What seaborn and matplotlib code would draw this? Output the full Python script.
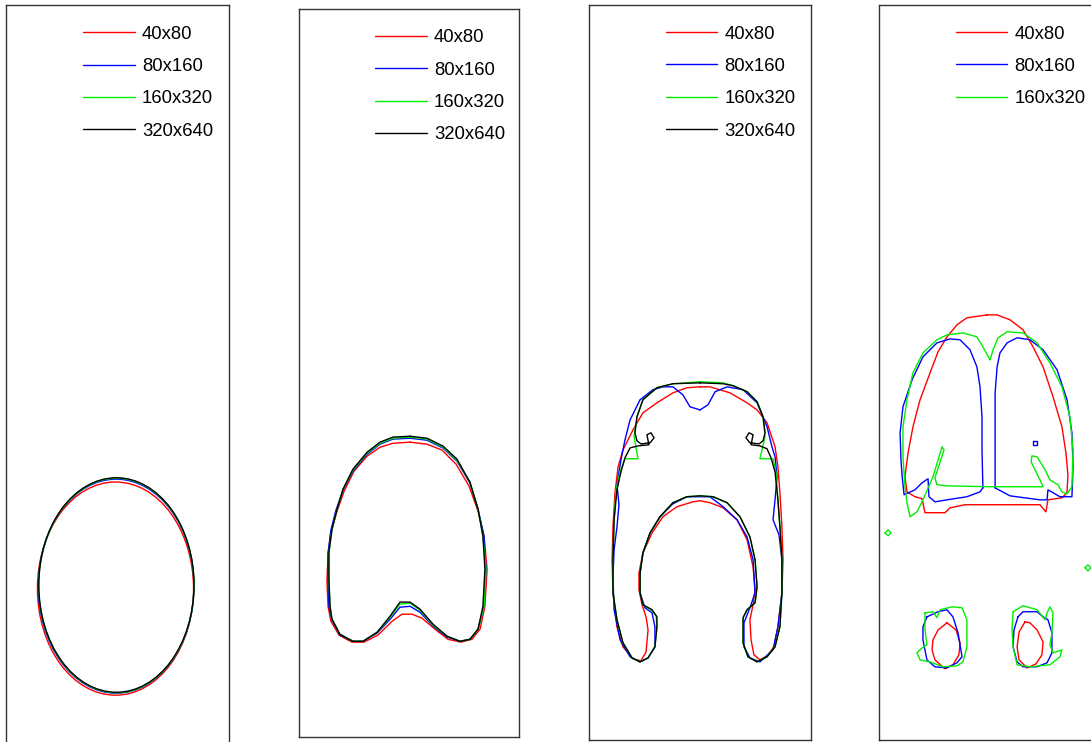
import matplotlib
matplotlib.use("Agg")
import matplotlib.pyplot as plt
from matplotlib.lines import Line2D
from matplotlib.patches import Ellipse
import seaborn as sns
import pandas as pd

# ---------------------------------------------------------------------------
# Interface contours of a rising bubble at four times, four grid resolutions.
# Domain coordinates: x in [0, 1], y in [0, 3.31] (y up).
# ---------------------------------------------------------------------------
RESOLUTIONS = ["40x80", "80x160", "160x320", "320x640"]

# Panel 1: early time, bubble still close to an ellipse (centre, full axes)
P1_CX = [0.491, 0.494, 0.495, 0.495]
P1_CY = [0.693, 0.704, 0.707, 0.709]
P1_W = [0.700, 0.698, 0.696, 0.696]
P1_H = [0.956, 0.960, 0.962, 0.962]

# Panel 2: bubble with a dimpled base
p2_40 = [(0.505, 1.341), (0.427, 1.336), (0.368, 1.318), (0.309, 1.277), (0.250, 1.209),
         (0.205, 1.118), (0.173, 1.027), (0.145, 0.932), (0.132, 0.832), (0.127, 0.709),
         (0.132, 0.595), (0.145, 0.527), (0.182, 0.464), (0.241, 0.432), (0.295, 0.432),
         (0.359, 0.464), (0.423, 0.527), (0.468, 0.559), (0.514, 0.559), (0.559, 0.541),
         (0.618, 0.491), (0.677, 0.445), (0.736, 0.432), (0.786, 0.445), (0.823, 0.491),
         (0.845, 0.595), (0.855, 0.764), (0.841, 0.914), (0.814, 1.027), (0.773, 1.141),
         (0.714, 1.241), (0.650, 1.305), (0.582, 1.332)]
p2_80 = [(0.505, 1.359), (0.427, 1.355), (0.368, 1.332), (0.309, 1.286), (0.245, 1.209),
         (0.200, 1.123), (0.168, 1.032), (0.145, 0.941), (0.132, 0.836), (0.132, 0.714),
         (0.136, 0.595), (0.150, 0.532), (0.186, 0.464), (0.245, 0.436), (0.291, 0.436),
         (0.355, 0.473), (0.414, 0.536), (0.459, 0.591), (0.505, 0.595), (0.550, 0.568),
         (0.609, 0.505), (0.673, 0.455), (0.732, 0.436), (0.777, 0.445), (0.814, 0.491),
         (0.841, 0.595), (0.850, 0.764), (0.841, 0.914), (0.814, 1.036), (0.777, 1.155),
         (0.718, 1.255), (0.655, 1.314), (0.582, 1.350)]
p2_160 = [(0.505, 1.364), (0.427, 1.359), (0.368, 1.336), (0.309, 1.291), (0.245, 1.214),
          (0.200, 1.127), (0.173, 1.036), (0.150, 0.945), (0.136, 0.841), (0.136, 0.718),
          (0.141, 0.595), (0.150, 0.536), (0.186, 0.468), (0.245, 0.436), (0.291, 0.436),
          (0.355, 0.477), (0.414, 0.545), (0.459, 0.605), (0.505, 0.609), (0.550, 0.577),
          (0.609, 0.509), (0.673, 0.459), (0.732, 0.436), (0.777, 0.445), (0.814, 0.491),
          (0.841, 0.595), (0.850, 0.764), (0.836, 0.914), (0.814, 1.036), (0.777, 1.159),
          (0.718, 1.259), (0.655, 1.318), (0.582, 1.355)]
p2_320 = [(0.505, 1.368), (0.427, 1.364), (0.368, 1.341), (0.309, 1.295), (0.245, 1.218),
          (0.200, 1.127), (0.173, 1.036), (0.150, 0.945), (0.136, 0.841), (0.136, 0.718),
          (0.141, 0.595), (0.150, 0.536), (0.186, 0.468), (0.245, 0.436), (0.291, 0.436),
          (0.355, 0.477), (0.414, 0.550), (0.459, 0.614), (0.505, 0.614), (0.550, 0.582),
          (0.609, 0.514), (0.673, 0.459), (0.732, 0.436), (0.777, 0.445), (0.814, 0.491),
          (0.836, 0.595), (0.845, 0.764), (0.836, 0.914), (0.814, 1.036), (0.777, 1.159),
          (0.718, 1.264), (0.655, 1.323), (0.582, 1.359)]

# Panel 3: skirted cap with trailing lobes
p3_40 = [(0.500, 1.590), (0.441, 1.586), (0.378, 1.563), (0.306, 1.518), (0.243, 1.473),
         (0.198, 1.396), (0.153, 1.306), (0.131, 1.230), (0.117, 1.113), (0.108, 0.959),
         (0.104, 0.811), (0.108, 0.662), (0.126, 0.509), (0.153, 0.419), (0.198, 0.365),
         (0.234, 0.356), (0.257, 0.396), (0.266, 0.495), (0.257, 0.554), (0.239, 0.608),
         (0.225, 0.676), (0.225, 0.752), (0.243, 0.842), (0.284, 0.932), (0.333, 1.005),
         (0.396, 1.050), (0.468, 1.072), (0.500, 1.077), (0.545, 1.068), (0.604, 1.045),
         (0.667, 0.991), (0.712, 0.901), (0.739, 0.779), (0.748, 0.676), (0.739, 0.608),
         (0.725, 0.541), (0.730, 0.450), (0.743, 0.383), (0.770, 0.360), (0.802, 0.378),
         (0.833, 0.419), (0.851, 0.509), (0.869, 0.662), (0.874, 0.811), (0.869, 0.959),
         (0.860, 1.113), (0.851, 1.230), (0.838, 1.320), (0.802, 1.428), (0.757, 1.486),
         (0.712, 1.518), (0.635, 1.563), (0.545, 1.590)]
p3_80 = [(0.500, 1.486), (0.455, 1.500), (0.423, 1.554), (0.378, 1.590), (0.333, 1.590),
         (0.288, 1.577), (0.230, 1.532), (0.185, 1.441), (0.162, 1.351), (0.144, 1.261),
         (0.126, 1.149), (0.135, 1.059), (0.126, 0.959), (0.113, 0.856), (0.108, 0.734),
         (0.113, 0.586), (0.140, 0.450), (0.185, 0.374), (0.230, 0.351), (0.266, 0.369),
         (0.297, 0.419), (0.297, 0.509), (0.284, 0.572), (0.252, 0.595), (0.230, 0.662),
         (0.230, 0.752), (0.243, 0.842), (0.275, 0.932), (0.320, 1.005), (0.378, 1.063),
         (0.441, 1.095), (0.500, 1.095), (0.545, 1.095), (0.604, 1.050), (0.667, 0.991),
         (0.712, 0.914), (0.739, 0.811), (0.748, 0.662), (0.725, 0.595), (0.698, 0.527),
         (0.698, 0.419), (0.725, 0.369), (0.770, 0.351), (0.829, 0.405), (0.851, 0.509),
         (0.869, 0.662), (0.869, 0.811), (0.856, 0.923), (0.829, 0.991), (0.838, 1.081),
         (0.847, 1.185), (0.838, 1.275), (0.824, 1.320), (0.802, 1.410), (0.757, 1.518),
         (0.694, 1.577), (0.622, 1.590), (0.568, 1.568), (0.536, 1.509)]
p3_160 = [(0.500, 1.613), (0.378, 1.604), (0.306, 1.586), (0.243, 1.532), (0.216, 1.455),
          (0.203, 1.365), (0.221, 1.266), (0.162, 1.266), (0.140, 1.207), (0.122, 1.126),
          (0.113, 0.991), (0.108, 0.811), (0.108, 0.662), (0.126, 0.541), (0.153, 0.437),
          (0.194, 0.369), (0.230, 0.351), (0.266, 0.369), (0.297, 0.419), (0.306, 0.509),
          (0.302, 0.559), (0.275, 0.590), (0.243, 0.608), (0.230, 0.662), (0.230, 0.752),
          (0.243, 0.842), (0.275, 0.932), (0.320, 1.005), (0.378, 1.068), (0.441, 1.095),
          (0.500, 1.099), (0.559, 1.095), (0.622, 1.068), (0.680, 1.005), (0.725, 0.914),
          (0.748, 0.811), (0.757, 0.689), (0.748, 0.617), (0.712, 0.586), (0.694, 0.550),
          (0.694, 0.437), (0.716, 0.374), (0.757, 0.351), (0.802, 0.374), (0.838, 0.419),
          (0.860, 0.509), (0.869, 0.662), (0.869, 0.811), (0.860, 0.959), (0.851, 1.081),
          (0.842, 1.207), (0.829, 1.266), (0.770, 1.266), (0.793, 1.365), (0.784, 1.455),
          (0.757, 1.523), (0.712, 1.568), (0.649, 1.595), (0.604, 1.608)]
p3_320 = [(0.500, 1.608), (0.378, 1.604), (0.306, 1.586), (0.243, 1.532), (0.216, 1.455),
          (0.207, 1.383), (0.216, 1.347), (0.234, 1.333), (0.275, 1.338), (0.293, 1.360),
          (0.279, 1.383), (0.261, 1.374), (0.270, 1.329), (0.221, 1.324), (0.185, 1.315),
          (0.162, 1.270), (0.144, 1.207), (0.126, 1.126), (0.113, 0.991), (0.108, 0.811),
          (0.108, 0.662), (0.126, 0.541), (0.153, 0.437), (0.194, 0.369), (0.230, 0.351),
          (0.266, 0.369), (0.297, 0.419), (0.306, 0.509), (0.306, 0.554), (0.284, 0.586),
          (0.243, 0.608), (0.230, 0.662), (0.230, 0.752), (0.243, 0.842), (0.275, 0.932),
          (0.320, 1.005), (0.378, 1.068), (0.441, 1.095), (0.500, 1.099), (0.559, 1.095),
          (0.622, 1.068), (0.680, 1.005), (0.725, 0.914), (0.748, 0.811), (0.757, 0.689),
          (0.748, 0.617), (0.712, 0.586), (0.694, 0.550), (0.694, 0.437), (0.716, 0.374),
          (0.757, 0.351), (0.802, 0.374), (0.838, 0.419), (0.860, 0.509), (0.869, 0.662),
          (0.869, 0.811), (0.860, 0.959), (0.851, 1.081), (0.838, 1.207), (0.820, 1.270),
          (0.802, 1.311), (0.770, 1.324), (0.730, 1.329), (0.739, 1.374), (0.721, 1.383),
          (0.707, 1.360), (0.725, 1.338), (0.766, 1.333), (0.784, 1.347), (0.793, 1.383),
          (0.784, 1.455), (0.757, 1.523), (0.712, 1.568), (0.649, 1.595), (0.604, 1.604)]

# Panel 4: break-up into a cap and two satellite droplets
p4_40_cap = [(0.486, 1.914), (0.396, 1.901), (0.351, 1.869), (0.306, 1.815), (0.266, 1.748),
             (0.230, 1.653), (0.185, 1.532), (0.153, 1.410), (0.131, 1.293), (0.117, 1.185),
             (0.126, 1.117), (0.162, 1.095), (0.194, 1.086), (0.207, 1.023), (0.297, 1.023),
             (0.320, 1.045), (0.387, 1.059), (0.725, 1.059), (0.752, 1.027), (0.761, 1.081),
             (0.824, 1.090), (0.847, 1.113), (0.851, 1.194), (0.842, 1.293), (0.824, 1.410),
             (0.784, 1.545), (0.739, 1.680), (0.694, 1.770), (0.649, 1.847), (0.590, 1.892),
             (0.532, 1.914)]
p4_40_drop_l = [(0.306, 0.527), (0.266, 0.495), (0.243, 0.450), (0.239, 0.405), (0.252, 0.360),
                (0.297, 0.320), (0.333, 0.338), (0.360, 0.383), (0.365, 0.437), (0.347, 0.495)]
p4_40_drop_r = [(0.658, 0.532), (0.631, 0.486), (0.622, 0.419), (0.631, 0.360), (0.667, 0.324),
                (0.707, 0.342), (0.734, 0.383), (0.739, 0.441), (0.712, 0.495), (0.680, 0.527)]

p4_80_lobe_l = [(0.468, 1.135), (0.464, 1.306), (0.464, 1.455), (0.455, 1.590), (0.441, 1.680),
                (0.410, 1.757), (0.365, 1.802), (0.320, 1.806), (0.261, 1.788), (0.198, 1.725),
                (0.149, 1.622), (0.108, 1.500), (0.095, 1.383), (0.099, 1.261), (0.104, 1.189),
                (0.113, 1.104), (0.162, 1.126), (0.194, 1.158), (0.221, 1.176), (0.225, 1.095),
                (0.252, 1.072), (0.306, 1.081), (0.396, 1.095), (0.455, 1.117)]
p4_80_lobe_r = [(0.523, 1.135), (0.590, 1.099), (0.725, 1.081), (0.757, 1.081), (0.761, 1.126),
                (0.784, 1.113), (0.815, 1.095), (0.869, 1.095), (0.874, 1.230), (0.869, 1.383),
                (0.847, 1.532), (0.802, 1.667), (0.739, 1.757), (0.680, 1.802), (0.622, 1.811),
                (0.577, 1.788), (0.545, 1.743), (0.532, 1.680), (0.523, 1.563), (0.523, 1.306)]
p4_80_speck = [(0.694, 1.347), (0.712, 1.347), (0.712, 1.329), (0.694, 1.329)]
p4_80_drop_l = [(0.216, 0.554), (0.266, 0.577), (0.306, 0.586), (0.333, 0.554), (0.356, 0.482),
                (0.374, 0.374), (0.351, 0.347), (0.306, 0.324), (0.252, 0.329), (0.216, 0.360),
                (0.198, 0.450), (0.198, 0.509)]
p4_80_drop_r = [(0.626, 0.554), (0.649, 0.577), (0.712, 0.577), (0.739, 0.554), (0.761, 0.541),
                (0.779, 0.482), (0.779, 0.392), (0.757, 0.347), (0.712, 0.329), (0.649, 0.329),
                (0.622, 0.351), (0.604, 0.419), (0.608, 0.495)]

p4_160_cap = [(0.500, 1.712), (0.468, 1.770), (0.441, 1.815), (0.378, 1.833), (0.306, 1.824),
              (0.261, 1.802), (0.198, 1.743), (0.153, 1.653), (0.126, 1.532), (0.108, 1.410),
              (0.108, 1.275), (0.117, 1.140), (0.126, 1.068), (0.140, 1.005), (0.171, 1.027),
              (0.198, 1.081), (0.243, 1.185), (0.284, 1.320), (0.293, 1.306), (0.252, 1.180),
              (0.261, 1.149), (0.306, 1.144), (0.500, 1.140), (0.739, 1.140), (0.725, 1.171),
              (0.685, 1.252), (0.689, 1.279), (0.712, 1.275), (0.748, 1.216), (0.770, 1.171),
              (0.806, 1.149), (0.824, 1.117), (0.847, 1.108), (0.869, 1.140), (0.874, 1.306),
              (0.860, 1.455), (0.824, 1.590), (0.770, 1.698), (0.712, 1.788), (0.649, 1.833),
              (0.577, 1.838), (0.536, 1.811), (0.514, 1.757)]
p4_160_bead_l = [(0.027, 0.932), (0.041, 0.946), (0.054, 0.932), (0.041, 0.919)]
p4_160_bead_r = [(0.928, 0.775), (0.941, 0.788), (0.955, 0.775), (0.941, 0.761)]
p4_160_drop_l = [(0.207, 0.572), (0.243, 0.577), (0.261, 0.550), (0.275, 0.586), (0.329, 0.599),
                 (0.374, 0.595), (0.396, 0.541), (0.396, 0.419), (0.378, 0.351), (0.351, 0.333),
                 (0.288, 0.329), (0.230, 0.351), (0.185, 0.360), (0.171, 0.392), (0.194, 0.414),
                 (0.216, 0.428), (0.207, 0.495)]
p4_160_drop_r = [(0.604, 0.577), (0.649, 0.604), (0.712, 0.586), (0.748, 0.541), (0.757, 0.572),
                 (0.770, 0.599), (0.784, 0.572), (0.779, 0.482), (0.770, 0.428), (0.784, 0.392),
                 (0.824, 0.405), (0.815, 0.374), (0.770, 0.338), (0.680, 0.329), (0.622, 0.338),
                 (0.604, 0.419), (0.599, 0.495)]

PANEL2 = {"40x80": [p2_40], "80x160": [p2_80], "160x320": [p2_160], "320x640": [p2_320]}
PANEL3 = {"40x80": [p3_40], "80x160": [p3_80], "160x320": [p3_160], "320x640": [p3_320]}
PANEL4 = {"40x80": [p4_40_cap, p4_40_drop_l, p4_40_drop_r],
          "80x160": [p4_80_lobe_l, p4_80_lobe_r, p4_80_speck, p4_80_drop_l, p4_80_drop_r],
          "160x320": [p4_160_cap, p4_160_bead_l, p4_160_bead_r, p4_160_drop_l, p4_160_drop_r]}

# ---------------------------------------------------------------------------
# Styling
# ---------------------------------------------------------------------------
sns.set_style("white")
plt.rcParams["font.family"] = ["Liberation Sans", "DejaVu Sans"]

PALETTE = {"40x80": "#ff0000", "80x160": "#0000ff", "160x320": "#00ee00", "320x640": "#000000"}
LW = 1.0
YMAX = 3.31
FIG_W, FIG_H = 1091, 742
# (left, top, width) of each panel frame, in pixels
FRAMES = [(6, 5, 223), (299, 9, 220), (589, 5, 222), (879, 5, 222)]


def contour_frame(pieces):
    rows = []
    for res, curves in pieces.items():
        for k, pts in enumerate(curves):
            closed = list(pts) + [pts[0]]
            for i, (x, y) in enumerate(closed):
                rows.append({"x": x, "y": y, "res": res, "piece": f"{res}-{k}", "order": i})
    return pd.DataFrame(rows)


fig = plt.figure(figsize=(FIG_W / 100, FIG_H / 100), dpi=100)
axes = []
for left, top, width in FRAMES:
    height = YMAX * width
    ax = fig.add_axes([left / FIG_W, 1 - (top + height) / FIG_H, width / FIG_W, height / FIG_H])
    axes.append(ax)

# Panel 1: ellipses
for res, cx, cy, w, h in zip(RESOLUTIONS, P1_CX, P1_CY, P1_W, P1_H):
    axes[0].add_patch(Ellipse((cx, cy), w, h, fill=False, edgecolor=PALETTE[res], lw=LW))

# Panels 2-4: polyline contours
for ax, pieces in zip(axes[1:], [PANEL2, PANEL3, PANEL4]):
    df = contour_frame(pieces)
    levels = [r for r in RESOLUTIONS if r in pieces]
    sns.lineplot(data=df, x="x", y="y", hue="res", units="piece", estimator=None,
                 sort=False, palette=PALETTE, hue_order=levels, legend=False,
                 linewidth=LW, ax=ax)

for i, ax in enumerate(axes):
    ax.set_xlim(0, 1)
    ax.set_ylim(0, YMAX)
    ax.set_xticks([])
    ax.set_yticks([])
    ax.set_xlabel("")
    ax.set_ylabel("")
    for s in ax.spines.values():
        s.set_color("#333333")
        s.set_linewidth(1.0)
    levels = RESOLUTIONS if i < 3 else RESOLUTIONS[:3]
    handles = [Line2D([], [], color=PALETTE[r], lw=LW) for r in levels]
    ax.legend(handles, levels, loc="upper left", bbox_to_anchor=(0.345, 0.972),
              frameon=False, fontsize=13.3, handlelength=2.81, handletextpad=0.38,
              labelspacing=0.83, borderpad=0, borderaxespad=0, labelcolor="black")

fig.savefig("out.png", dpi=100)
